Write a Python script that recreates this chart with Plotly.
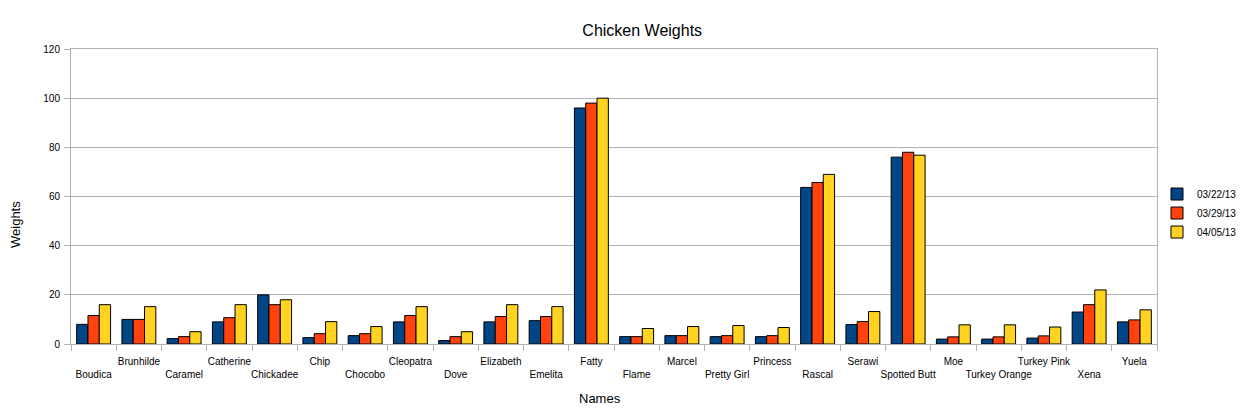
import plotly.graph_objects as go

names = ["Boudica", "Brunhilde", "Caramel", "Catherine", "Chickadee", "Chip",
         "Chocobo", "Cleopatra", "Dove", "Elizabeth", "Emelita", "Fatty",
         "Flame", "Marcel", "Pretty Girl", "Princess", "Rascal", "Serawi",
         "Spotted Butt", "Moe", "Turkey Orange", "Turkey Pink", "Xena", "Yuela"]

w_0322 = [8, 10, 2.2, 9, 20, 2.6, 3.4, 9, 1.4, 9, 9.5, 96,
          3, 3.4, 3, 3, 63.7, 7.9, 76, 2, 2, 2.4, 13, 9]
w_0329 = [11.6, 10, 3, 10.7, 16, 4.2, 4.2, 11.6, 3, 11.2, 11.2, 98,
          3, 3.4, 3.4, 3.4, 65.7, 9.1, 78, 2.9, 2.9, 3.3, 16, 9.8]
w_0405 = [16, 15.2, 5, 16, 18, 9.1, 7.1, 15.2, 5, 16, 15.2, 100,
          6.3, 7.1, 7.5, 6.7, 69, 13.2, 76.8, 7.8, 7.8, 6.9, 22, 13.9]

series_names = ["03/22/13", "03/29/13", "04/05/13"]
series_values = [w_0322, w_0329, w_0405]
colors = ["#004586", "#ff420e", "#ffd320"]

y_ticks = [0, 20, 40, 60, 80, 100, 120]

# staggered category labels (every other label on a second row)
tick_text = [("<br>" + n) if i % 2 == 0 else n for i, n in enumerate(names)]

FONT = "Liberation Sans, Arial, sans-serif"
GRID = "#b3b3b3"

# the page body has an 8px default margin; the figure is sized to fit the window
W, H = 1248, 405

fig = go.Figure()
for nm, vals, col in zip(series_names, series_values, colors):
    fig.add_trace(go.Bar(
        x=names, y=vals, name=nm,
        marker=dict(color=col, line=dict(color="#000000", width=1)),
    ))

fig.update_layout(
    width=W, height=H,
    margin=dict(l=63, r=99, t=41, b=69),
    paper_bgcolor="white", plot_bgcolor="white",
    font=dict(family=FONT, size=10, color="#000000"),
    barmode="group", bargap=0.25, bargroupgap=0,
    title=dict(text="Chicken Weights", font=dict(family=FONT, size=16, color="#000000"),
               x=0.526, xref="paper", xanchor="center",
               y=1 - 22 / H, yref="container", yanchor="middle"),
    showlegend=True,
    legend=dict(x=1.0, xanchor="left", y=0.444, yanchor="middle",
                font=dict(family=FONT, size=10, color="#000000"),
                bgcolor="rgba(0,0,0,0)", borderwidth=0),
    xaxis=dict(
        type="category", tickmode="array", tickvals=names, ticktext=tick_text,
        tickson="boundaries", ticks="outside", ticklen=6, tickcolor=GRID,
        ticklabelstandoff=8,
        showline=True, mirror=True, linecolor=GRID, linewidth=1,
        showgrid=False, tickfont=dict(family=FONT, size=10, color="#000000"),
        tickangle=0, automargin=False,
    ),
    yaxis=dict(
        range=[0, 120], tickmode="array", tickvals=y_ticks,
        ticks="outside", ticklen=6, tickcolor=GRID, ticklabelstandoff=2,
        showline=True, mirror=True, linecolor=GRID, linewidth=1,
        showgrid=True, gridcolor=GRID, gridwidth=1,
        zeroline=False, tickfont=dict(family=FONT, size=10, color="#000000"),
        automargin=False,
    ),
    annotations=[
        dict(text="Names", xref="paper", yref="paper", x=0.487, y=(344 - 398) / 295,
             xanchor="center", yanchor="middle", showarrow=False,
             font=dict(family=FONT, size=13, color="#000000")),
        dict(text="Weights", xref="paper", yref="paper", x=(16 - 71) / 1086, y=(344 - 225) / 295,
             xanchor="center", yanchor="middle", showarrow=False, textangle=-90,
             font=dict(family=FONT, size=13, color="#000000")),
    ],
)

fig.write_html("out.html")
